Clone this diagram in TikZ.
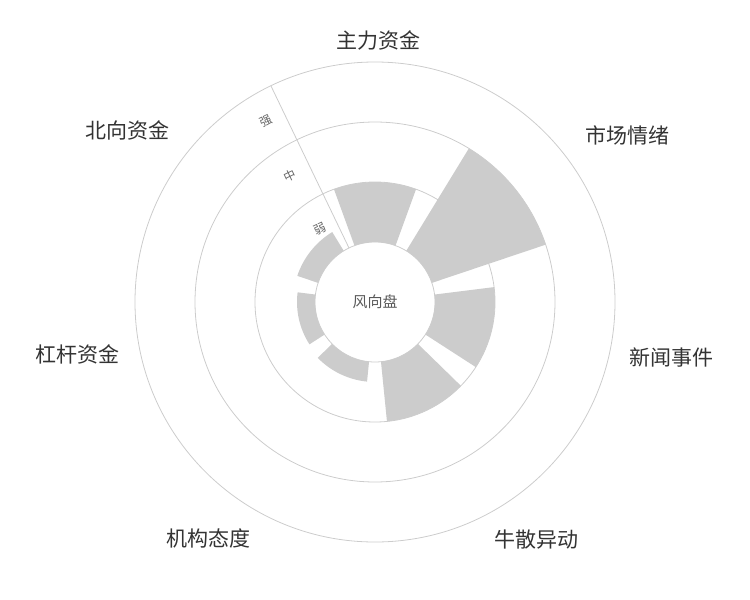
\documentclass[tikz,border=0pt]{standalone}
\usepackage{fontspec}
\newfontfamily\cjk{Noto Sans CJK SC}
\begin{document}
\begin{tikzpicture}[x=1pt,y=1pt,
  grid/.style={draw=black!20,line width=0.8pt},
  bar/.style={fill=black!20},
  lab/.style={font=\cjk\fontsize{21}{21}\selectfont,text=black!80},
  tick/.style={font=\cjk\fontsize{12}{12}\selectfont,text=black!60,rotate=25.7}]
\useasboundingbox (0,0) rectangle (750,-600);
\coordinate (O) at (375,-302);
\foreach \r in {60,120,180,240} \draw[grid] (O) circle[radius=\r];
\foreach \c/\v in {90/120,38.57/180,-12.86/120,-64.29/120,-115.71/80,-167.14/78,141.43/82}{
  \pgfmathsetmacro\aa{\c+20}\pgfmathsetmacro\ab{\c-20}
  \fill[bar] ([shift={(O)}]\aa:60) arc[start angle=\aa,end angle=\ab,radius=60]
    -- ([shift={(O)}]\ab:\v) arc[start angle=\ab,end angle=\aa,radius=\v] -- cycle;
}
\coordinate (A1) at ([shift={(O)}]115.71:60);
\coordinate (A2) at ([shift={(O)}]115.71:240);
\draw[grid] (A1) -- (A2);
\node[tick] (t1) at ([shift={(O)}]121:211) {强};
\node[tick] (t2) at ([shift={(O)}]124:152) {中};
\node[tick] (t3) at ([shift={(O)}]127:91) {弱};
\node[font=\cjk\fontsize{15}{15}\selectfont,text=black!65] (c) at (O) {风向盘};
\node[lab] (l1) at (378,-40) {主力资金};
\node[lab] (l2) at (627,-135) {市场情绪};
\node[lab] (l3) at (671,-358) {新闻事件};
\node[lab] (l4) at (536,-540) {牛散异动};
\node[lab] (l5) at (208,-538) {机构态度};
\node[lab] (l6) at (77,-354) {杠杆资金};
\node[lab] (l7) at (127,-130) {北向资金};
\end{tikzpicture}
\end{document}
